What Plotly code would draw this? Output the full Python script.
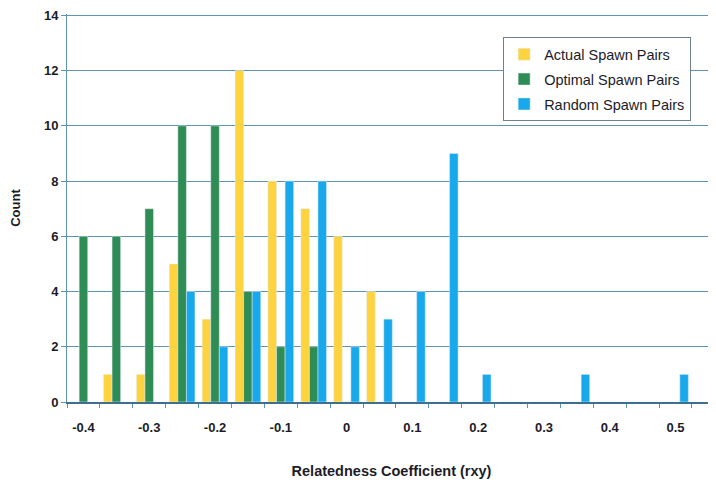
import plotly.graph_objects as go

categories = ["-0.4", "-0.35", "-0.3", "-0.25", "-0.2", "-0.15", "-0.1", "-0.05", "0",
              "0.05", "0.1", "0.15", "0.2", "0.25", "0.3", "0.35", "0.4", "0.45", "0.5"]
actual = [0, 1, 1, 5, 3, 12, 8, 7, 6, 4, 0, 0, 0, 0, 0, 0, 0, 0, 0]
optimal = [6, 6, 7, 10, 10, 4, 2, 2, 0, 0, 0, 0, 0, 0, 0, 0, 0, 0, 0]
random_pairs = [0, 0, 0, 4, 2, 4, 8, 8, 2, 3, 4, 9, 1, 0, 0, 1, 0, 0, 1]
y_ticks = [0, 2, 4, 6, 8, 10, 12, 14]
tick_labels = [c if i % 2 == 0 else "" for i, c in enumerate(categories)]

font_family = "Liberation Sans, Arial, sans-serif"
grid_color = "#5f93b6"
text_color = "#1c1c28"

fig = go.Figure()
fig.add_trace(go.Bar(x=categories, y=actual, name="Actual Spawn Pairs",
                     marker_color="#fdd33f", legendgroup="a"))
fig.add_trace(go.Bar(x=categories, y=optimal, name="Optimal Spawn Pairs",
                     marker_color="#2f8c55", legendgroup="o"))
fig.add_trace(go.Bar(x=categories, y=random_pairs, name="Random Spawn Pairs",
                     marker_color="#17a9ec", legendgroup="r"))

fig.update_layout(
    width=716, height=483,
    margin=dict(l=59, r=8, t=6, b=89),
    paper_bgcolor="white", plot_bgcolor="white",
    barmode="group", bargap=0.22, bargroupgap=0,
    font=dict(family=font_family, color=text_color, size=12),
    legend=dict(
        x=0.672, y=0.94, xanchor="left", yanchor="top",
        bordercolor="#6f7f8f", borderwidth=1, bgcolor="white",
        font=dict(family=font_family, size=14.5, color=text_color),
        traceorder="grouped", tracegroupgap=3, itemwidth=30,
    ),
    xaxis=dict(
        type="category", automargin=False,
        tickmode="array", tickvals=categories, ticktext=tick_labels,
        tickson="boundaries",
        range=[-0.5, 19.23],
        ticks="outside", ticklen=4, tickcolor=grid_color,
        ticklabelstandoff=13,
        showline=True, linecolor="#3f6f8f", linewidth=1.5,
        showgrid=False,
        tickfont=dict(family=font_family, size=13, color=text_color, weight="bold"),
        title=dict(text="<b>Relatedness Coefficient (rxy)</b>", standoff=32,
                   font=dict(family=font_family, size=14.5, color=text_color)),
    ),
    yaxis=dict(
        range=[0, 14.05], automargin=False,
        tickmode="array", tickvals=y_ticks,
        ticklabeloverflow="allow",
        ticks="outside", ticklen=5, tickcolor=grid_color,
        showline=True, linecolor=grid_color, linewidth=1,
        showgrid=True, gridcolor=grid_color, gridwidth=1,
        zeroline=False,
        tickfont=dict(family=font_family, size=13, color=text_color, weight="bold"),
        title=dict(text="<b>Count</b>", standoff=22,
                   font=dict(family=font_family, size=13, color=text_color)),
    ),
)

fig.write_html("out.html")
